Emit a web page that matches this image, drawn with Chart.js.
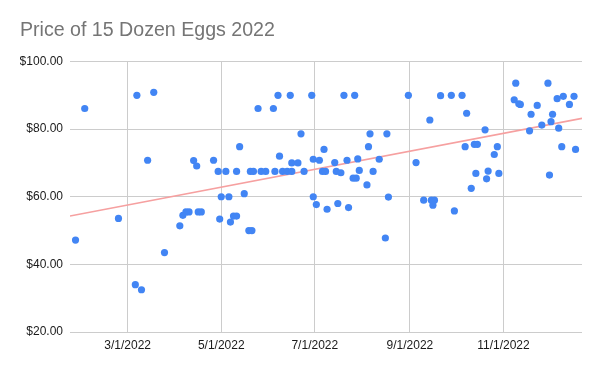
<!DOCTYPE html>
<html>
<head>
<meta charset="utf-8">
<script src="https://cdn.jsdelivr.net/npm/chart.js@4.4.1/dist/chart.umd.min.js"></script>
<style>
  html, body { margin: 0; padding: 0; background: #fff; }
</style>
</head>
<body>
<canvas id="eggs" width="600" height="371"></canvas>
<script>
// purchase dates (2022) and price paid for 15 dozen eggs
const dates = [
  "1/26", "2/1", "2/23", "3/7", "3/6", "3/10", "3/14", "3/18", "3/25", "4/4",
  "4/6", "4/8", "4/10", "4/13", "4/15", "4/16", "4/18", "4/26", "4/29", "4/30",
  "5/1", "5/6", "5/4", "5/7", "5/9", "5/11", "5/11", "5/13", "5/16", "5/19",
  "5/21", "5/20", "5/22", "5/25", "5/27", "5/30", "6/4", "6/7", "6/5", "6/8",
  "6/10", "6/13", "6/15", "6/16", "6/16", "6/20", "6/22", "6/24", "6/29", "6/30",
  "6/30", "7/2", "7/4", "7/7", "7/6", "7/8", "7/9", "7/14", "7/15", "7/18",
  "7/16", "7/20", "7/22", "7/23", "7/27", "7/26", "7/28", "7/29", "7/30", "8/4",
  "8/5", "8/6", "8/8", "8/12", "8/16", "8/17", "8/18", "8/31", "9/5", "9/10",
  "9/14", "9/15", "9/17", "9/16", "9/21", "9/28", "9/30", "10/5", "10/8", "10/7",
  "10/11", "10/13", "10/15", "10/14", "10/20", "10/21", "10/22", "10/26", "10/28", "10/29",
  "11/9", "11/8", "11/11", "11/12", "11/18", "11/19", "11/23", "11/26", "11/30", "12/1",
  "12/2", "12/3", "12/7", "12/6", "12/10", "12/9", "12/14", "12/17", "12/18"
];
const prices = [
  47.2, 86.1, 53.6, 90.0, 34.0, 32.5, 70.8, 90.9, 43.5, 51.4,
  54.5, 55.5, 55.5, 70.7, 69.1, 55.5, 55.5, 70.8, 67.5, 53.4,
  60.0, 60.0, 67.5, 52.5, 54.3, 54.3, 67.5, 74.8, 60.9, 50.0,
  50.0, 67.5, 67.5, 86.1, 67.5, 67.5, 86.1, 90.0, 67.5, 72.0,
  67.5, 67.5, 90.0, 70.0, 67.5, 70.0, 78.6, 67.5, 90.0, 71.1,
  60.0, 57.7, 70.8, 74.0, 67.5, 67.5, 56.3, 70.1, 67.5, 67.1,
  58.0, 90.0, 70.8, 56.8, 90.0, 65.5, 65.5, 71.2, 67.8, 63.5,
  74.8, 78.6, 67.5, 71.1, 47.8, 78.6, 59.9, 90.0, 70.1, 59.0,
  82.7, 59.0, 59.0, 57.5, 89.9, 90.0, 55.8, 90.0, 84.7, 74.8,
  62.5, 75.5, 75.5, 66.9, 79.8, 65.3, 67.6, 72.5, 74.8, 66.9,
  93.6, 88.7, 87.5, 87.3, 79.5, 84.4, 87.0, 81.2, 93.6, 66.4,
  82.2, 84.4, 80.3, 89.0, 89.7, 74.8, 87.3, 89.7, 74.0
];
// linear trendline, value at the left and right ends of the axis
const trendEnds = [54.3, 83.2];
const tickDates = ["3/1", "5/1", "7/1", "9/1", "11/1"];
const axisRange = ["1/22", "12/22"];
const yTicks = [20, 40, 60, 80, 100];

const dayMs = 86400000;
const jan1 = Date.UTC(2022, 0, 1);
function dayOf(md) {
  const [m, d] = md.split("/").map(Number);
  return (Date.UTC(2022, m - 1, d) - jan1) / dayMs;
}
function label(day) {
  const dt = new Date(jan1 + day * dayMs);
  return (dt.getUTCMonth() + 1) + "/" + dt.getUTCDate() + "/2022";
}

const points = dates.map((d, i) => ({ x: dayOf(d), y: prices[i] }));
const xMin = dayOf(axisRange[0]) + 0.4;
const xMax = dayOf(axisRange[1]) + 0.2;
const trend = [{ x: xMin, y: trendEnds[0] }, { x: xMax, y: trendEnds[1] }];

const font = 'Arial, "Liberation Sans", sans-serif';

new Chart(document.getElementById("eggs"), {
  type: "scatter",
  data: {
    datasets: [
      {
        label: "Price",
        data: points,
        backgroundColor: "#4285f4",
        borderWidth: 0,
        pointRadius: 3.6,
        pointHoverRadius: 3.6,
      },
      {
        type: "line",
        label: "Trend",
        data: trend,
        borderColor: "#f6a0a0",
        borderWidth: 1.6,
        pointRadius: 0,
        fill: false,
      },
    ],
  },
  options: {
    responsive: false,
    devicePixelRatio: 1,
    animation: false,
    layout: { padding: { left: 20, right: 18, top: 0, bottom: 0 } },
    plugins: {
      legend: { display: false },
      tooltip: { enabled: false },
      title: {
        display: true,
        text: "Price of 15 Dozen Eggs 2022",
        align: "start",
        color: "#757575",
        font: { family: font, size: 19.6, weight: "normal" },
        padding: { top: 19, bottom: 19 },
      },
    },
    scales: {
      x: {
        type: "linear",
        min: xMin,
        max: xMax,
        afterBuildTicks: (s) => { s.ticks = tickDates.map(d => ({ value: dayOf(d) })); },
        afterFit: (s) => { s.height = 39; },
        grid: { color: "#cccccc", drawTicks: false },
        border: { display: false },
        ticks: {
          color: "#1a1a1a",
          font: { family: font, size: 12 },
          padding: 6,
          maxRotation: 0,
          callback: (v) => label(v),
        },
      },
      y: {
        min: 20,
        max: 100,
        afterBuildTicks: (s) => { s.ticks = yTicks.map(v => ({ value: v })); },
        afterFit: (s) => { s.width = 50; },
        grid: { color: "#cccccc", drawTicks: false },
        border: { display: false },
        ticks: {
          color: "#1a1a1a",
          font: { family: font, size: 12 },
          padding: 7,
          callback: (v) => "$" + v.toFixed(2),
        },
      },
    },
  },
});
</script>
</body>
</html>
